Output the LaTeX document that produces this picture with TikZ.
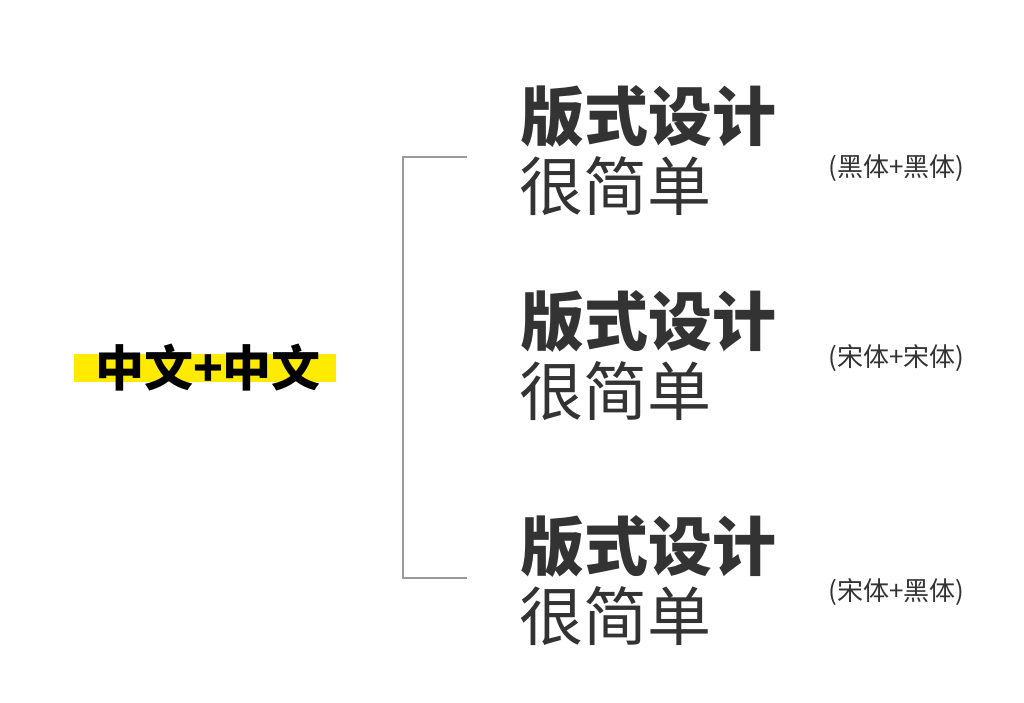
\documentclass[tikz,border=0pt]{standalone}
\usepackage{fontspec}
\newfontfamily\cjk{Noto Sans CJK SC}
\definecolor{txt}{HTML}{333333}
\definecolor{brk}{HTML}{9A9A9A}
\definecolor{hl}{HTML}{FFEB00}
\begin{document}
\begin{tikzpicture}[x=1pt,y=-1pt,
  big/.style={anchor=base west,inner sep=0pt,text=txt,font=\cjk\fontsize{64}{64}\selectfont},
  bigb/.style={big,font=\cjk\bfseries\fontsize{64}{64}\selectfont},
  lab/.style={anchor=base west,inner sep=0pt,text=txt,font=\cjk\fontsize{26}{26}\selectfont},
  brkline/.style={draw=brk,line width=1.2pt}]
\useasboundingbox (0,0) rectangle (1024,702);
% highlighted title
\fill[hl] (74,354) rectangle (336,382);
\node[anchor=base,inner sep=0pt,font=\cjk\bfseries\fontsize{49}{49}\selectfont] (title) at (208,386) {中文+中文};
% bracket
\coordinate (bt) at (467,157);
\coordinate (bb) at (467,578);
\draw[brkline] (bt) -- (403,157) -- (403,578) -- (bb);
% top block
\node[bigb] (t1) at (520,140) {版式设计};
\node[big] (t2) at (519,210) {很简单};
\node[lab] (tl) at (828,176) {(黑体+黑体)};
% middle block
\node[bigb] (m1) at (520,345) {版式设计};
\node[big] (m2) at (519,415) {很简单};
\node[lab] (ml) at (828,366) {(宋体+宋体)};
% bottom block
\node[bigb] (b1) at (520,570) {版式设计};
\node[big] (b2) at (519,640) {很简单};
\node[lab] (bl) at (828,600) {(宋体+黑体)};
\end{tikzpicture}
\end{document}
